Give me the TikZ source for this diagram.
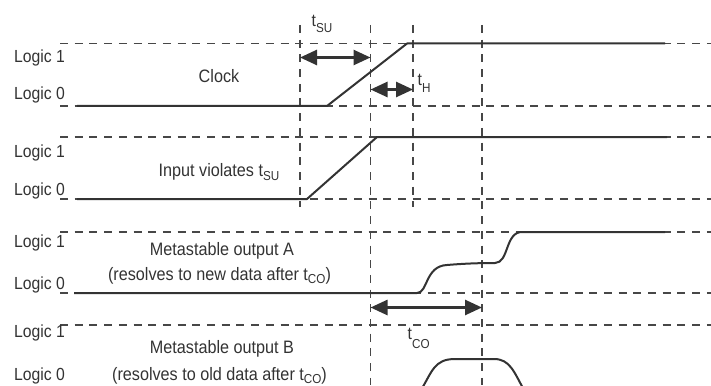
\documentclass[tikz,border=0pt]{standalone}
\usepackage{fontspec}
\setmainfont{Liberation Sans}[FakeStretch=0.9]
\usetikzlibrary{arrows.meta}
\definecolor{sig}{HTML}{333333}
\definecolor{dsh}{HTML}{474747}
\newcommand{\lsub}[2][3.5pt]{\raisebox{-#1}{\fontsize{13}{13}\selectfont #2}}
\begin{document}
\begin{tikzpicture}[x=1pt,y=-1pt,
  grid/.style={draw=dsh, line width=1.3pt, dash pattern=on 8pt off 6.7pt},
  sigline/.style={draw=sig, line width=2pt, line join=round},
  dimline/.style={draw=sig, line width=2.6pt,
    {Triangle[length=17pt,width=15pt]}-{Triangle[length=17pt,width=15pt]}},
  lbl/.style={font=\fontsize{17.5}{17.5}\selectfont, text=sig, inner sep=0pt, anchor=base west},
  captxt/.style={font=\fontsize{18}{18}\selectfont, text=sig, inner sep=0pt, anchor=base}]
\useasboundingbox (0,0) rectangle (711,385);
\clip (0,0) rectangle (711,385);

% horizontal reference levels
\foreach \yy in {43.5,106,137,199,232,293,325}
  \draw[grid] (60,\yy) -- (711,\yy);

% vertical time markers
\draw[grid] (300,25) -- (300,207);
\draw[grid] (370.5,25) -- (370.5,385);
\draw[grid] (413,25) -- (413,207);
\draw[grid] (482,25) -- (482,385);

% signals
\draw[sigline] (77,106) -- (327,106) -- (407,43.5) -- (665,43.5);
\draw[sigline] (77,199) -- (307,199) -- (377,137) -- (667,137);
\draw[sigline] (74,293) -- (417,293)
  .. controls (428,293) and (425,266) .. (447,265)
  .. controls (465,263.5) and (480,263) .. (495,263)
  .. controls (509,263) and (505,232) .. (522,232) -- (665,232);
\draw[sigline] (421,390)
  .. controls (432,372) and (434,359) .. (455,359) -- (494,359)
  .. controls (510,359) and (514,372) .. (524,390);

% dimension arrows
\coordinate (su1) at (300,57.5);
\coordinate (su2) at (370.5,57.5);
\coordinate (h1) at (370.5,89.5);
\coordinate (h2) at (413,89.5);
\coordinate (co1) at (370.5,307.5);
\coordinate (co2) at (482,307.5);
\draw[dimline] (su1) -- (su2);
\draw[dimline] (h1) -- (h2);
\draw[dimline] (co1) -- (co2);

\node[lbl] (tsu) at (311.5,27) {t\lsub[6pt]{SU}};
\node[lbl] (th) at (417.5,85) {t\lsub[8pt]{H}};
\node[lbl] (tco) at (407.5,339) {t\lsub[9pt]{CO}};

% level labels
\node[lbl] (c1) at (14,62.5) {Logic 1};
\node[lbl] (c0) at (14,99.5) {Logic 0};
\node[lbl] (i1) at (14,157) {Logic 1};
\node[lbl] (i0) at (14,195) {Logic 0};
\node[lbl] (a1) at (14,247) {Logic 1};
\node[lbl] (a0) at (14,289) {Logic 0};
\node[lbl] (b1) at (14,337.5) {Logic 1};
\node[lbl] (b0) at (14,380.5) {Logic 0};

% captions
\node[captxt] (clk) at (219,83) {Clock};
\node[captxt] (inp) at (219,176.5) {Input violates t\lsub{SU}};
\node[captxt] (ma) at (222,255) {Metastable output A};
\node[captxt] (ma2) at (219.5,280) {(resolves to new data after t\lsub{CO})};
\node[captxt] (mb) at (222,353) {Metastable output B};
\node[captxt] (mb2) at (219.5,380) {(resolves to old data after t\lsub{CO})};
\end{tikzpicture}
\end{document}
